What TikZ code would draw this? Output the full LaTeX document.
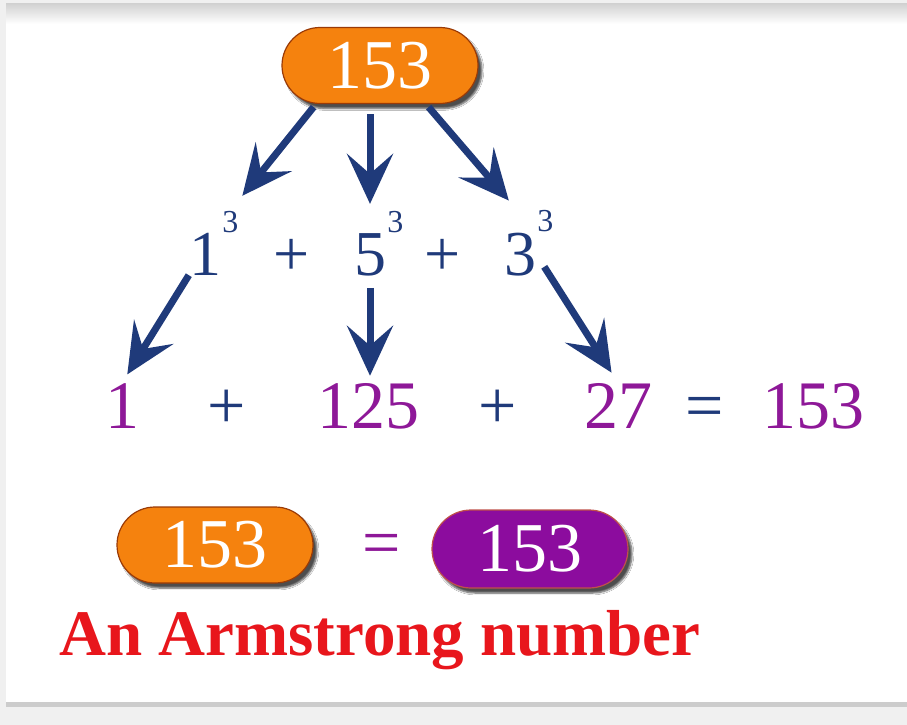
\documentclass[tikz,border=0pt]{standalone}
\usepackage{fontspec}
\setmainfont{Liberation Serif}
\usetikzlibrary{arrows.meta,shapes.misc,shadows.blur}

\definecolor{pillorange}{HTML}{F5820E}
\definecolor{pillrim}{HTML}{9A3A06}
\definecolor{pillpurple}{HTML}{8C0C9E}
\definecolor{purplerim}{HTML}{C0504A}
\definecolor{navy}{HTML}{1F3A7A}
\definecolor{sumpurple}{HTML}{8E1898}
\definecolor{titlered}{HTML}{E8161C}

\begin{document}
\begin{tikzpicture}[x=1pt, y=-1pt,
  pill/.style={rounded rectangle, draw=pillrim, line width=1.2pt, fill=pillorange, text=white,
    minimum width=196pt, minimum height=76pt, inner sep=0pt, font=\fontsize{70}{70}\selectfont,
    blur shadow={shadow xshift=4pt, shadow yshift=-5pt, shadow blur steps=6, shadow opacity=70}},
  power/.style={anchor=base, inner sep=0pt, text=navy, font=\fontsize{64}{64}\selectfont},
  cube/.style={label={[inner sep=0pt, xshift=1pt, text=navy, font=\fontsize{32}{32}\selectfont, name=#1]north east:3}},
  term/.style={anchor=base, inner sep=0pt, text=sumpurple, font=\fontsize{68}{68}\selectfont},
  op/.style={term, text=navy},
  arr/.style={-{Stealth[length=50pt, width=46pt, inset=20pt]}, line width=7pt, draw=navy}]
  % Frame
  \fill[gray!12] (0,0) rectangle (907,725);
  \shade[top color=gray!35, bottom color=white] (6,4) rectangle (907,24);
  \fill[white] (6,24) rectangle (907,702);
  \fill[gray!40] (6,702) rectangle (907,707);
  \useasboundingbox (0,0) rectangle (907,725);

  % Number on top
  \node[pill] (top) at (380,65.5) {153};

  % Cubes of the digits
  \node[power, cube=s1] (d1) at (205,275) {1};
  \node[power] (pa) at (292,275) {+};
  \node[power, cube=s5] (d5) at (370,275) {5};
  \node[power] (pb) at (443,275) {+};
  \node[power, cube=s3] (d3) at (520,275) {3};

  % Values of the cubes
  \node[term] (e1) at (122,428) {1};
  \node[op] (ea) at (227,428) {+};
  \node[term] (e125) at (368,428) {125};
  \node[op] (eb) at (498,428) {+};
  \node[term] (e27) at (618,428) {27};
  \node[op] (eq) at (705,428) {=};
  \node[term] (e153) at (813,428) {153};

  \draw[arr, shorten <=4pt, shorten >=19pt] (top.-149) -- (s1.north);
  \draw[arr, shorten <=10pt, shorten >=29pt] (d5 |- top.south) -- (d5.north);
  \draw[arr, shorten <=4pt, shorten >=42pt] (top.-40) -- (d3.north east);
  \draw[arr, shorten >=10pt] (d1.south west) -- (e1.north);
  \draw[arr, shorten <=12pt, shorten >=7pt] (d5.south) -- (d5.south |- e125.north);
  \draw[arr, shorten <=15pt, shorten >=12pt] (d3.east) -- (e27.north);

  % Result
  \node[pill] (left) at (215,545) {153};
  \node[term] (same) at (382,565) {=};
  \node[pill, fill=pillpurple, draw=purplerim, minimum height=78pt] (right) at (530,549) {153};
  \node[anchor=base, inner sep=0pt, text=titlered, font=\bfseries\fontsize{65}{65}\selectfont] (title) at (380,655) {An Armstrong number};
\end{tikzpicture}
\end{document}
